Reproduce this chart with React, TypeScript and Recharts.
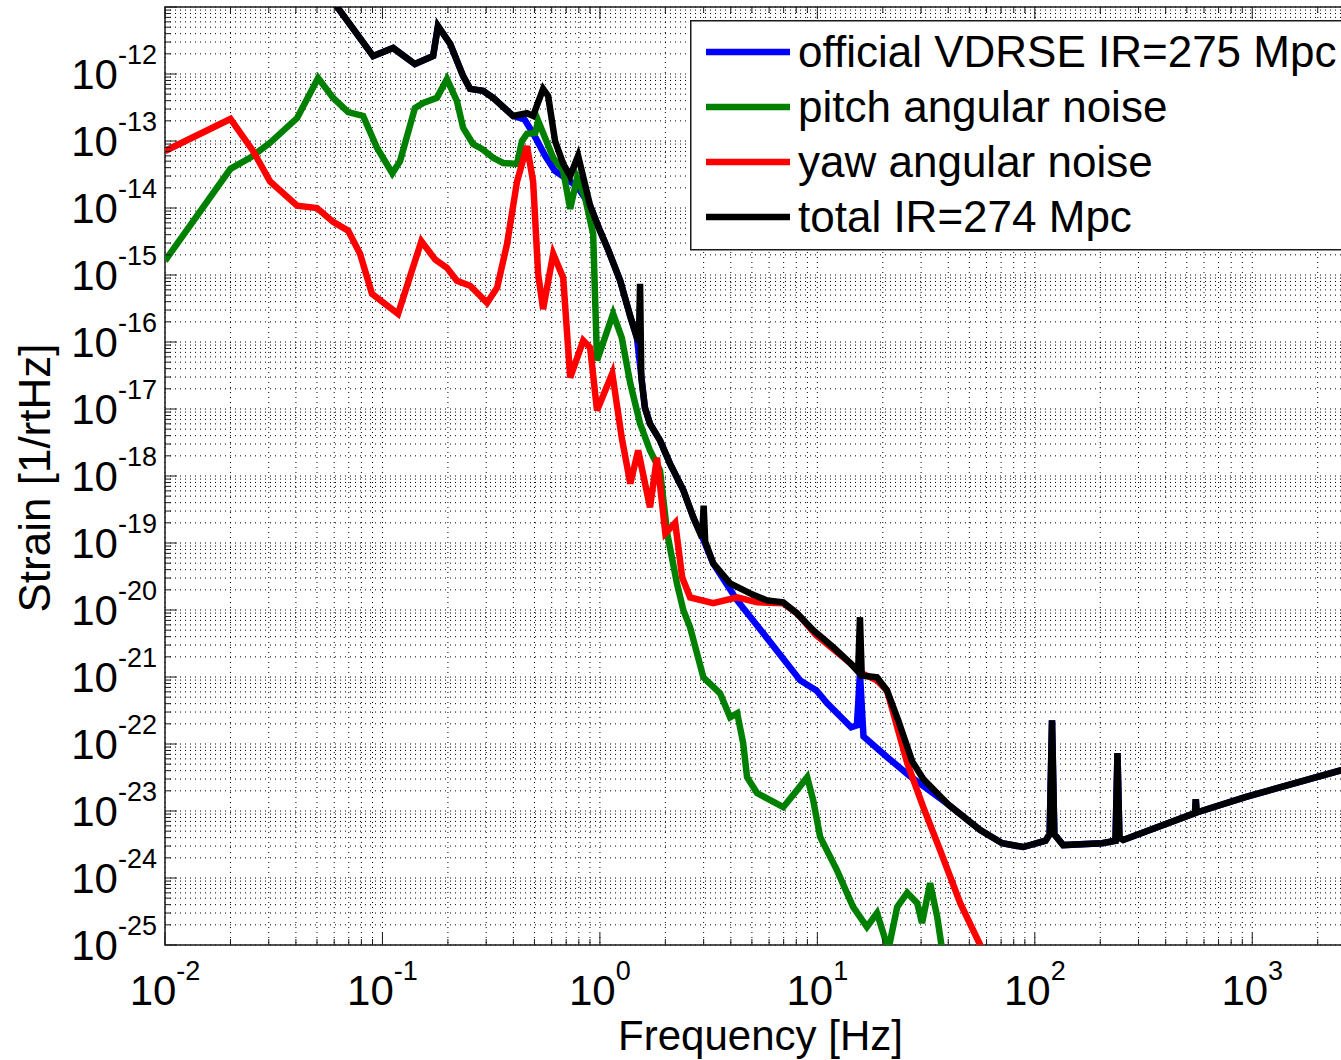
import React from "react";
import {
  CartesianGrid,
  Legend,
  Line,
  LineChart,
  ReferenceArea,
  XAxis,
  YAxis,
} from "recharts";

// values: frequency [Hz] and strain [1/rtHz]
const officialFreq = [
  0.01, 0.05, 0.0625, 0.0906, 0.112, 0.141, 0.171, 0.18, 0.205, 0.235, 0.253, 0.29, 0.323, 0.399,
  0.45, 0.5, 0.56, 0.62, 0.73, 0.794, 0.902, 1.0, 1.09, 1.24, 1.38, 1.48, 1.61, 1.7, 1.89, 2.1,
  2.42, 2.69, 3.0, 3.32, 3.6, 4.28, 5.64, 6.7, 8.34, 9.9, 11.1, 14.3, 15.2, 15.7, 16.3, 20.9, 26.4,
  40, 56.1, 70.8, 88.5, 112, 117, 120, 123, 135, 204, 235, 240, 245, 255, 545, 550, 555, 929, 2570,
  3000,
];
const officialStrain = [
  1e-9, 2.6e-11, 9.6e-12, 1.85e-12, 2.44e-12, 1.41e-12, 1.85e-12, 5.2e-12, 2.8e-12, 9.3e-13, 6.0e-13,
  5.6e-13, 4.4e-13, 2.37e-13, 2.1e-13, 1.2e-13, 6.0e-14, 3.6e-14, 2.5e-14, 2.0e-14, 1.08e-14,
  4.6e-15, 2.4e-15, 8.2e-16, 2.4e-16, 1.16e-16, 1.05e-17, 6.0e-18, 3.4e-18, 1.53e-18, 6.1e-19,
  2.4e-19, 1.1e-19, 4.95e-20, 3.3e-20, 1.39e-20, 4.5e-21, 2.2e-21, 8.9e-22, 6.3e-22, 4.06e-22,
  1.78e-22, 1.9e-22, 1.14e-21, 1.3e-22, 6.4e-23, 3.4e-23, 1.25e-23, 5.2e-24, 3.3e-24, 2.9e-24,
  3.6e-24, 4.5e-24, 2.26e-22, 4.5e-24, 3.1e-24, 3.3e-24, 3.6e-24, 7.3e-23, 4.0e-24, 3.7e-24,
  9.3e-24, 1.5e-23, 9.5e-24, 1.61e-23, 4.07e-23, 4.7e-23,
];

const pitchFreq = [
  0.01, 0.02, 0.0246, 0.0304, 0.0405, 0.0506, 0.0593, 0.0695, 0.0815, 0.0944, 0.111, 0.1205, 0.141,
  0.154, 0.178, 0.198, 0.22, 0.235, 0.261, 0.287, 0.323, 0.359, 0.416, 0.438, 0.462, 0.504, 0.52,
  0.61, 0.678, 0.73, 0.785, 0.855, 0.931, 0.97, 1.15, 1.26, 1.38, 1.53, 1.7, 1.89, 2.04, 2.26, 2.42,
  2.6, 2.99, 3.57, 3.97, 4.28, 4.56, 4.75, 5.28, 6.07, 6.97, 8.07, 8.98, 9.57, 10.3, 12.3, 14.6,
  16.9, 18.8, 20.1, 21.2, 23.3, 25.9, 28.8, 30.3, 33.0, 35.6, 37.5, 38.5,
];
const pitchStrain = [
  1.63e-15, 3.84e-14, 5.6e-14, 9.4e-14, 2.2e-13, 8.7e-13, 4.4e-13, 2.7e-13, 2.37e-13, 7.9e-14,
  3.3e-14, 5.0e-14, 3.1e-13, 3.7e-13, 4.4e-13, 8.4e-13, 3.96e-13, 1.57e-13, 9.0e-14, 7.6e-14,
  5.6e-14, 4.7e-14, 4.55e-14, 1.0e-13, 1.28e-13, 1.32e-13, 2.0e-13, 5.6e-14, 3.6e-14, 9.7e-15,
  2.8e-14, 1.42e-14, 4.1e-15, 5.3e-17, 2.64e-16, 1.16e-16, 2.4e-17, 6.05e-18, 2.4e-18, 1.21e-18,
  1.39e-19, 2.5e-20, 9.9e-21, 5.5e-21, 9.9e-22, 5.7e-22, 2.5e-22, 2.88e-22, 1.03e-22, 3.2e-23,
  1.85e-23, 1.45e-23, 1.14e-23, 2.05e-23, 3.2e-23, 1.45e-23, 4.1e-24, 1.31e-24, 3.7e-25, 1.86e-25,
  3.0e-25, 1.51e-25, 8.4e-26, 3.7e-25, 6.0e-25, 4.2e-25, 2.13e-25, 8.4e-25, 2.6e-25, 8.4e-26, 1e-27,
];

const yawFreq = [
  0.01, 0.02, 0.0254, 0.0304, 0.0405, 0.05, 0.0593, 0.0695, 0.0789, 0.0895, 0.118, 0.151, 0.175,
  0.198, 0.22, 0.253, 0.303, 0.337, 0.374, 0.416, 0.462, 0.493, 0.52, 0.548, 0.61, 0.678, 0.73,
  0.838, 0.902, 0.97, 1.14, 1.26, 1.38, 1.5, 1.7, 1.83, 2.0, 2.22, 2.39, 2.6, 3.32, 4.28, 5.28,
  6.97, 8.07, 9.88, 14.2, 15.7, 18.8, 20.9, 23.3, 25.9, 30.7, 36.7, 45.4, 56.1, 60,
];
const yawStrain = [
  7.1e-14, 2.13e-13, 7.1e-14, 2.5e-14, 1.08e-14, 1.0e-14, 6.2e-15, 4.6e-15, 2.07e-15, 5.25e-16,
  2.64e-16, 3.2e-15, 1.69e-15, 1.28e-15, 8.2e-16, 6.9e-16, 3.85e-16, 6.5e-16, 2.9e-15, 2.5e-14,
  8.4e-14, 2.5e-14, 1.04e-15, 3.1e-16, 2.07e-15, 9.1e-16, 2.94e-17, 1.05e-16, 8.2e-17, 9.5e-18,
  3.4e-17, 3.74e-18, 7.7e-19, 2.4e-18, 3.4e-19, 1.88e-18, 1.39e-19, 2.0e-19, 3.06e-20, 1.54e-20,
  1.26e-20, 1.54e-20, 1.3e-20, 1.26e-20, 8.9e-21, 4.2e-21, 1.6e-21, 1.17e-21, 8.9e-22, 6.3e-22,
  1.78e-22, 5.2e-23, 1.14e-23, 2.6e-24, 4.2e-25, 1.0e-25, 1e-26,
];

const totalFreq = [
  0.01, 0.05, 0.0625, 0.0906, 0.112, 0.141, 0.171, 0.18, 0.205, 0.235, 0.253, 0.29, 0.323, 0.399,
  0.462, 0.493, 0.548, 0.578, 0.622, 0.678, 0.73, 0.794, 0.902, 1.0, 1.09, 1.24, 1.38, 1.48, 1.51,
  1.53, 1.55, 1.61, 1.7, 1.89, 2.1, 2.42, 2.69, 2.95, 3.0, 3.05, 3.32, 3.97, 4.91, 5.87, 6.97, 8.07,
  9.57, 11.8, 14.2, 15.4, 15.7, 16.0, 18.8, 20.9, 23.5, 27.3, 30.7, 40, 56.1, 70.8, 88.5, 112, 117,
  120, 123, 135, 204, 235, 240, 245, 255, 545, 550, 555, 929, 2570, 3000,
];
const totalStrain = [
  1e-9, 2.6e-11, 9.6e-12, 1.85e-12, 2.44e-12, 1.41e-12, 1.85e-12, 5.2e-12, 2.8e-12, 9.3e-13, 6.0e-13,
  5.6e-13, 4.4e-13, 2.37e-13, 2.6e-13, 2.37e-13, 6.0e-13, 4.7e-13, 1.0e-13, 4.55e-14, 3.0e-14,
  6.0e-14, 1.08e-14, 4.6e-15, 2.4e-15, 8.2e-16, 2.4e-16, 1.16e-16, 1.0e-16, 7.4e-16, 3.0e-17,
  1.05e-17, 6.0e-18, 3.4e-18, 1.53e-18, 6.1e-19, 2.4e-19, 1.2e-19, 3.6e-19, 1.05e-19, 4.95e-20,
  2.5e-20, 1.77e-20, 1.39e-20, 1.3e-20, 8.9e-21, 5.0e-21, 2.8e-21, 1.6e-21, 1.2e-21, 7.8e-21,
  1.05e-21, 9.9e-22, 6.3e-22, 2.3e-22, 5.5e-23, 3.0e-23, 1.25e-23, 5.2e-24, 3.3e-24, 2.9e-24,
  3.6e-24, 4.5e-24, 2.26e-22, 4.5e-24, 3.1e-24, 3.3e-24, 3.6e-24, 7.3e-23, 4.0e-24, 3.7e-24,
  9.3e-24, 1.5e-23, 9.5e-24, 1.61e-23, 4.07e-23, 4.7e-23,
];

// axis decades (labels are 10^n)
const X_DECADES = [-2, -1, 0, 1, 2, 3];
const Y_DECADES = [-25, -24, -23, -22, -21, -20, -19, -18, -17, -16, -15, -14, -13, -12, -11];
const MINOR_STEPS = [1, 2, 3, 4, 5, 6, 7, 8, 9];
const X_MIN = 0.01;
const X_MAX = 3000;
const Y_MIN = 1e-25;
const Y_MAX = 1e-11;

const FONT = "'Liberation Sans', Arial, Helvetica, sans-serif";
const AXIS_COLOR = "#1a1a1a";

const CHART_W = 1360;
const CHART_H = 1060;
const PLOT_TOP = 7;
const PLOT_RIGHT_MARGIN = 4;
const PLOT_RIGHT = CHART_W - PLOT_RIGHT_MARGIN;
const Y_AXIS_W = 165;
const X_AXIS_H = 115;
const LINE_W = 6.5;

const zip = (fs: number[], vs: number[]) => fs.map((f, i) => ({ f, v: vs[i] }));

const SERIES = [
  { name: "official VDRSE IR=275 Mpc", color: "#0000ff", data: zip(officialFreq, officialStrain) },
  { name: "pitch angular noise", color: "#008000", data: zip(pitchFreq, pitchStrain) },
  { name: "yaw angular noise", color: "#ff0000", data: zip(yawFreq, yawStrain) },
  { name: "total IR=274 Mpc", color: "#000000", data: zip(totalFreq, totalStrain) },
];

const buildTicks = (decades: number[], max: number) =>
  decades
    .flatMap((d) => MINOR_STEPS.map((m) => m * Math.pow(10, d)))
    .filter((v) => v <= max * 1.0001);

const xTicks = buildTicks(X_DECADES, X_MAX);
const yTicks = buildTicks(Y_DECADES, Y_MAX);

const isMajor = (v: number) => {
  const l = Math.log10(v);
  return Math.abs(l - Math.round(l)) < 1e-6;
};

const PowerLabel = ({ x, y, exp, anchor }: any) => (
  <text x={x} y={y} textAnchor={anchor} fontFamily={FONT} fontSize={42} fill="#000">
    <tspan>10</tspan>
    <tspan dy={-25} fontSize={27}>
      {exp}
    </tspan>
  </text>
);

const XTick = (props: any) => {
  const { x, y, payload } = props;
  const major = isMajor(payload.value);
  const len = major ? 12 : 6;
  return (
    <g>
      <line x1={x} x2={x} y1={y} y2={y - len} stroke={AXIS_COLOR} />
      <line x1={x} x2={x} y1={PLOT_TOP} y2={PLOT_TOP + len} stroke={AXIS_COLOR} />
      {major && (
        <PowerLabel x={x} y={y + 60} exp={Math.round(Math.log10(payload.value))} anchor="middle" />
      )}
    </g>
  );
};

const YTick = (props: any) => {
  const { x, y, payload } = props;
  const major = isMajor(payload.value);
  const exp = Math.round(Math.log10(payload.value));
  const len = major ? 12 : 6;
  return (
    <g>
      <line x1={x} x2={x + len} y1={y} y2={y} stroke={AXIS_COLOR} />
      <line x1={PLOT_RIGHT} x2={PLOT_RIGHT - len} y1={y} y2={y} stroke={AXIS_COLOR} />
      {major && exp < -11 && <PowerLabel x={x - 8} y={y + 15} exp={exp} anchor="end" />}
    </g>
  );
};

const renderXTitle = (props: any) => {
  const vb = props.viewBox;
  return (
    <text
      x={vb.x + vb.width / 2}
      y={vb.y + vb.height - 10}
      textAnchor="middle"
      fontFamily={FONT}
      fontSize={42}
      fill="#000"
    >
      Frequency [Hz]
    </text>
  );
};

const renderYTitle = (props: any) => {
  const vb = props.viewBox;
  const cx = vb.x + 50;
  const cy = vb.y + vb.height / 2 + 2;
  return (
    <text
      x={cx}
      y={cy}
      transform={`rotate(-90 ${cx} ${cy})`}
      textAnchor="middle"
      fontFamily={FONT}
      fontSize={44}
      fill="#000"
    >
      Strain [1/rtHz]
    </text>
  );
};

const renderLegend = () => (
  <svg width={670} height={231} style={{ display: "block" }}>
    <rect x={0.75} y={0.75} width={668} height={229} fill="#fff" stroke={AXIS_COLOR} strokeWidth={1.5} />
    {SERIES.map((s, i) => {
      const cy = 32 + i * 55;
      return (
        <g key={s.name}>
          <line x1={16} x2={100} y1={cy} y2={cy} stroke={s.color} strokeWidth={LINE_W} />
          <text x={108} y={cy + 15} fontFamily={FONT} fontSize={44} fill="#000">
            {s.name}
          </text>
        </g>
      );
    })}
  </svg>
);

export default function App() {
  return (
    <div
      style={{
        position: "fixed",
        left: 0,
        top: 0,
        width: 1341,
        height: 1060,
        overflow: "hidden",
        background: "#fff",
      }}
    >
      <LineChart
        width={CHART_W}
        height={CHART_H}
        margin={{ top: PLOT_TOP, right: PLOT_RIGHT_MARGIN, left: 0, bottom: 0 }}
      >
        <CartesianGrid stroke="#000" strokeWidth={1} strokeDasharray="1 4" />
        <XAxis
          type="number"
          dataKey="f"
          scale="log"
          domain={[X_MIN, X_MAX]}
          allowDataOverflow
          ticks={xTicks}
          interval={0}
          tick={<XTick />}
          tickSize={0}
          tickMargin={0}
          tickLine={false}
          axisLine={false}
          height={X_AXIS_H}
          label={renderXTitle}
        />
        <YAxis
          type="number"
          dataKey="v"
          scale="log"
          domain={[Y_MIN, Y_MAX]}
          allowDataOverflow
          ticks={yTicks}
          interval={0}
          tick={<YTick />}
          tickSize={0}
          tickMargin={0}
          tickLine={false}
          axisLine={false}
          width={Y_AXIS_W}
          label={renderYTitle}
        />
        <ReferenceArea
          x1={X_MIN}
          x2={X_MAX}
          y1={Y_MIN}
          y2={Y_MAX}
          fill="none"
          stroke={AXIS_COLOR}
          strokeWidth={1.5}
          ifOverflow="visible"
        />
        {SERIES.map((s) => (
          <Line
            key={s.name}
            data={s.data}
            dataKey="v"
            name={s.name}
            type="linear"
            stroke={s.color}
            strokeWidth={LINE_W}
            dot={false}
            activeDot={false}
            isAnimationActive={false}
          />
        ))}
        <Legend
          layout="vertical"
          align="center"
          verticalAlign="middle"
          content={renderLegend}
          wrapperStyle={{ position: "absolute", left: 690, top: 20, width: 670, height: 231 }}
        />
      </LineChart>
    </div>
  );
}
